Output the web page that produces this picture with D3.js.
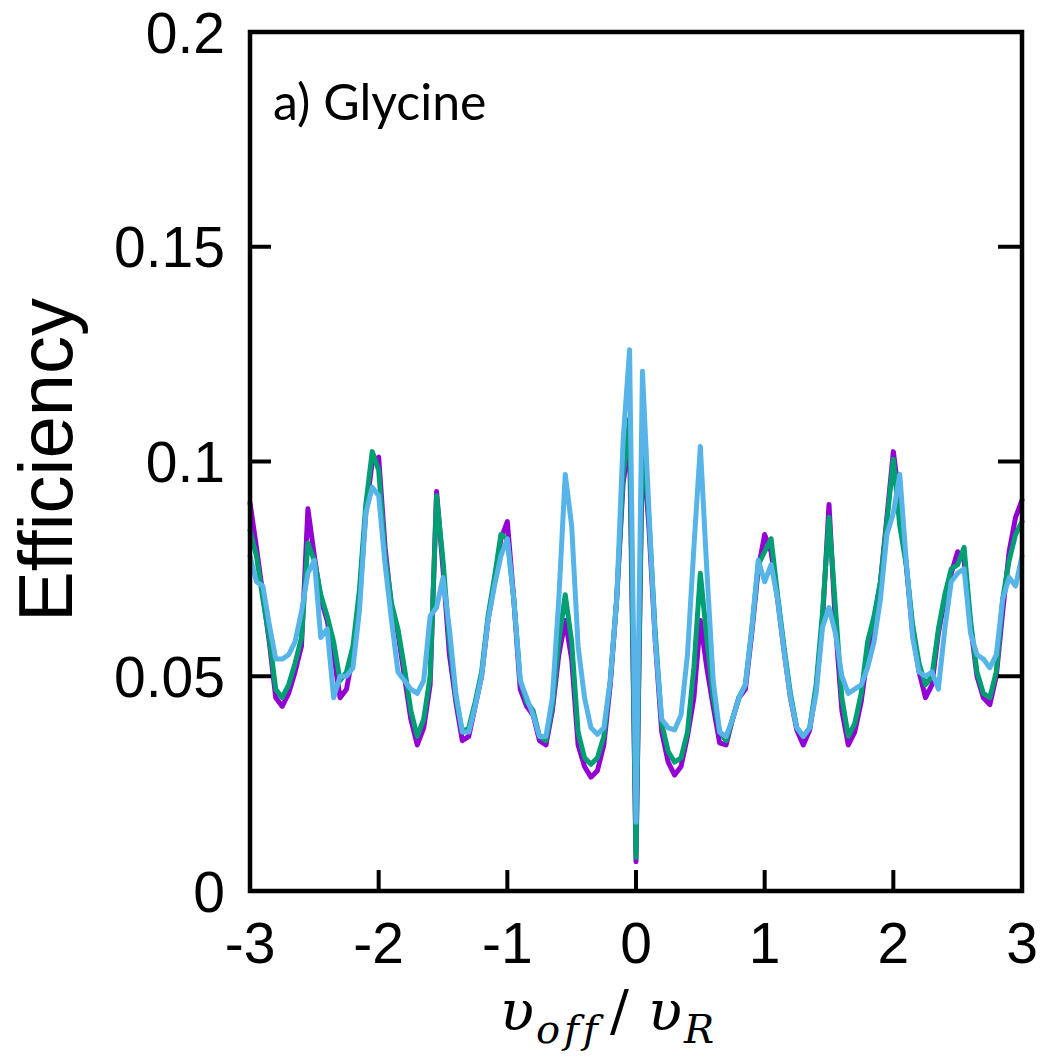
<!DOCTYPE html>
<html>
<head>
<meta charset="utf-8">
<script src="https://cdn.jsdelivr.net/npm/d3@7"></script>
<style>
  html, body { margin: 0; padding: 0; background: #fff; }
  svg { display: block; }
</style>
</head>
<body>
<svg id="chart" width="1043" height="1057"></svg>
<script>
// ---------- data ----------
const xValues = [
  -3.00,-2.95,-2.90,-2.85,-2.80,-2.75,-2.70,-2.65,-2.60,-2.55,-2.50,-2.45,-2.40,-2.35,-2.30,-2.25,-2.20,-2.15,-2.10,-2.05,
  -2.00,-1.95,-1.90,-1.85,-1.80,-1.75,-1.70,-1.65,-1.60,-1.55,-1.50,-1.45,-1.40,-1.35,-1.30,-1.25,-1.20,-1.15,-1.10,-1.05,
  -1.00,-0.95,-0.90,-0.85,-0.80,-0.75,-0.70,-0.65,-0.60,-0.55,-0.50,-0.45,-0.40,-0.35,-0.30,-0.25,-0.20,-0.15,-0.10,-0.05,
  0.00,0.05,0.10,0.15,0.20,0.25,0.30,0.35,0.40,0.45,0.50,0.55,0.60,0.65,0.70,0.75,0.80,0.85,0.90,0.95,
  1.00,1.05,1.10,1.15,1.20,1.25,1.30,1.35,1.40,1.45,1.50,1.55,1.60,1.65,1.70,1.75,1.80,1.85,1.90,1.95,
  2.00,2.05,2.10,2.15,2.20,2.25,2.30,2.35,2.40,2.45,2.50,2.55,2.60,2.65,2.70,2.75,2.80,2.85,2.90,2.95,
  3.00
];

const purpleSeries = [
  0.0904,0.080,0.069,0.058,0.045,0.043,0.046,0.051,0.057,0.089,0.078,0.068,0.063,0.055,0.045,0.047,0.055,0.068,0.088,0.100,
  0.101,0.080,0.066,0.060,0.050,0.040,0.034,0.038,0.048,0.093,0.075,0.055,0.044,0.035,0.036,0.043,0.050,0.063,0.072,0.082,
  0.086,0.068,0.047,0.043,0.041,0.035,0.034,0.042,0.055,0.063,0.054,0.034,0.029,0.0265,0.028,0.034,0.048,0.068,0.095,0.105,
  0.0068,0.104,0.085,0.058,0.037,0.030,0.027,0.029,0.036,0.045,0.063,0.052,0.043,0.0345,0.034,0.040,0.045,0.047,0.060,0.075,
  0.083,0.079,0.068,0.056,0.045,0.0375,0.034,0.0375,0.047,0.063,0.090,0.062,0.042,0.034,0.037,0.044,0.055,0.063,0.072,0.087,
  0.1023,0.0905,0.076,0.060,0.051,0.045,0.048,0.060,0.068,0.074,0.079,0.077,0.062,0.050,0.045,0.0434,0.050,0.065,0.079,0.087,
  0.091
];

const greenSeries = [
  0.084,0.078,0.068,0.059,0.047,0.045,0.048,0.053,0.059,0.081,0.077,0.069,0.064,0.058,0.049,0.051,0.057,0.070,0.090,0.1023,
  0.098,0.078,0.067,0.061,0.052,0.042,0.036,0.040,0.050,0.092,0.077,0.058,0.045,0.037,0.038,0.044,0.051,0.064,0.073,0.083,
  0.082,0.068,0.049,0.044,0.042,0.036,0.035,0.043,0.058,0.069,0.058,0.037,0.031,0.0295,0.031,0.036,0.049,0.068,0.097,0.110,
  0.0078,0.107,0.087,0.060,0.039,0.0325,0.030,0.031,0.037,0.052,0.074,0.059,0.045,0.037,0.035,0.040,0.045,0.048,0.061,0.076,
  0.079,0.082,0.069,0.057,0.046,0.038,0.036,0.038,0.048,0.065,0.087,0.066,0.045,0.036,0.039,0.046,0.058,0.064,0.072,0.086,
  0.1005,0.085,0.076,0.062,0.053,0.048,0.050,0.061,0.069,0.075,0.076,0.080,0.063,0.051,0.046,0.045,0.051,0.068,0.077,0.083,
  0.086
];

const blueSeries = [
  0.078,0.072,0.071,0.062,0.054,0.054,0.055,0.058,0.065,0.074,0.077,0.059,0.061,0.045,0.050,0.050,0.052,0.065,0.088,0.094,
  0.092,0.076,0.063,0.051,0.049,0.047,0.046,0.049,0.064,0.066,0.073,0.061,0.046,0.037,0.037,0.043,0.050,0.063,0.071,0.078,
  0.082,0.068,0.049,0.045,0.041,0.036,0.036,0.045,0.068,0.097,0.085,0.057,0.045,0.038,0.0365,0.038,0.049,0.068,0.105,0.126,
  0.016,0.121,0.089,0.058,0.040,0.038,0.0375,0.041,0.055,0.080,0.1035,0.075,0.049,0.037,0.036,0.040,0.045,0.048,0.061,0.077,
  0.072,0.076,0.068,0.056,0.045,0.038,0.036,0.038,0.046,0.0615,0.066,0.060,0.050,0.046,0.047,0.048,0.052,0.058,0.068,0.083,
  0.088,0.097,0.077,0.059,0.051,0.050,0.051,0.047,0.061,0.072,0.074,0.075,0.060,0.055,0.054,0.052,0.055,0.068,0.073,0.071,
  0.078
];

const seriesNames = ["purple", "green", "blue"];
const seriesColors = ["#9400D3", "#009E73", "#56B4E9"];
const xTicks = [-3, -2, -1, 0, 1, 2, 3];
const yTicks = [0, 0.05, 0.1, 0.15, 0.2];
const yTickLabels = ["0", "0.05", "0.1", "0.15", "0.2"];
const panelLabel = "a) Glycine";
const yTitle = "Efficiency";

// ---------- layout ----------
const svg = d3.select("#chart");
const plotLeft = 250, plotRight = 1022, plotTop = 32, plotBottom = 891;

const x = d3.scaleLinear().domain([-3, 3]).range([plotLeft, plotRight]);
const y = d3.scaleLinear().domain([0, 0.2]).range([plotBottom, plotTop]);

const allSeries = [purpleSeries, greenSeries, blueSeries];

// lines
const line = d3.line().x(d => x(d[0])).y(d => y(d[1]));
allSeries.forEach((vals, i) => {
  const pts = xValues.map((xv, j) => [xv, vals[j]]);
  svg.append("path")
    .datum(pts)
    .attr("fill", "none")
    .attr("stroke", seriesColors[i])
    .attr("stroke-width", 5)
    .attr("stroke-linejoin", "round")
    .attr("stroke-linecap", "round")
    .attr("d", line);
});

// frame
svg.append("rect")
  .attr("x", plotLeft).attr("y", plotTop)
  .attr("width", plotRight - plotLeft).attr("height", plotBottom - plotTop)
  .attr("fill", "none").attr("stroke", "#000").attr("stroke-width", 4.5);

// ticks
const innerY = yTicks.filter(t => t > 0 && t < 0.2);
const innerX = xTicks.filter(t => t > -3 && t < 3);
svg.append("g").selectAll("line").data(innerY).join("line")
  .attr("x1", plotLeft).attr("x2", plotLeft + 21)
  .attr("y1", d => y(d)).attr("y2", d => y(d))
  .attr("stroke", "#000").attr("stroke-width", 4);
svg.append("g").selectAll("line").data(innerY).join("line")
  .attr("x1", plotRight).attr("x2", plotRight - 24)
  .attr("y1", d => y(d)).attr("y2", d => y(d))
  .attr("stroke", "#000").attr("stroke-width", 4);
svg.append("g").selectAll("line").data(innerX).join("line")
  .attr("x1", d => x(d)).attr("x2", d => x(d))
  .attr("y1", plotBottom).attr("y2", plotBottom - 21)
  .attr("stroke", "#000").attr("stroke-width", 4);

// tick labels
const tickFont = "'Liberation Sans', Arial, sans-serif";
svg.append("g").selectAll("text").data(yTicks).join("text")
  .attr("x", plotLeft - 25)
  .attr("y", d => y(d))
  .attr("dy", "0.36em")
  .attr("text-anchor", "end")
  .attr("font-family", tickFont)
  .attr("font-size", 57)
  .attr("fill", "#000")
  .text((d, i) => yTickLabels[i]);

svg.append("g").selectAll("text").data(xTicks).join("text")
  .attr("x", d => x(d))
  .attr("y", 963)
  .attr("text-anchor", "middle")
  .attr("font-family", tickFont)
  .attr("font-size", 57)
  .attr("fill", "#000")
  .text(d => String(d));

// y title
svg.append("text")
  .attr("transform", "translate(72,460) rotate(-90)")
  .attr("text-anchor", "middle")
  .attr("font-family", tickFont)
  .attr("font-size", 76)
  .attr("fill", "#000")
  .text(yTitle);

// panel label
svg.append("text")
  .attr("x", 273).attr("y", 120)
  .attr("font-family", "Lato, 'Open Sans', sans-serif")
  .attr("font-size", 50)
  .attr("fill", "#000")
  .text(panelLabel);

// x title: υ_off / υ_R
const xt = svg.append("text")
  .attr("y", 1030)
  .attr("font-family", "'DejaVu Serif', 'Liberation Serif', serif")
  .attr("fill", "#000");
xt.append("tspan").attr("x", 500).attr("font-size", 56).attr("font-style", "italic").text("υ");
xt.append("tspan").attr("x", 536).attr("font-size", 40).attr("font-style", "italic")
  .attr("letter-spacing", 4).attr("dy", 13).text("off");
xt.append("tspan").attr("x", 610).attr("font-size", 56).attr("dy", -13).text("/");
xt.append("tspan").attr("x", 648).attr("font-size", 56).attr("font-style", "italic").text("υ");
xt.append("tspan").attr("x", 684).attr("font-size", 40).attr("font-style", "italic").attr("dy", 13).text("R");
</script>
</body>
</html>
